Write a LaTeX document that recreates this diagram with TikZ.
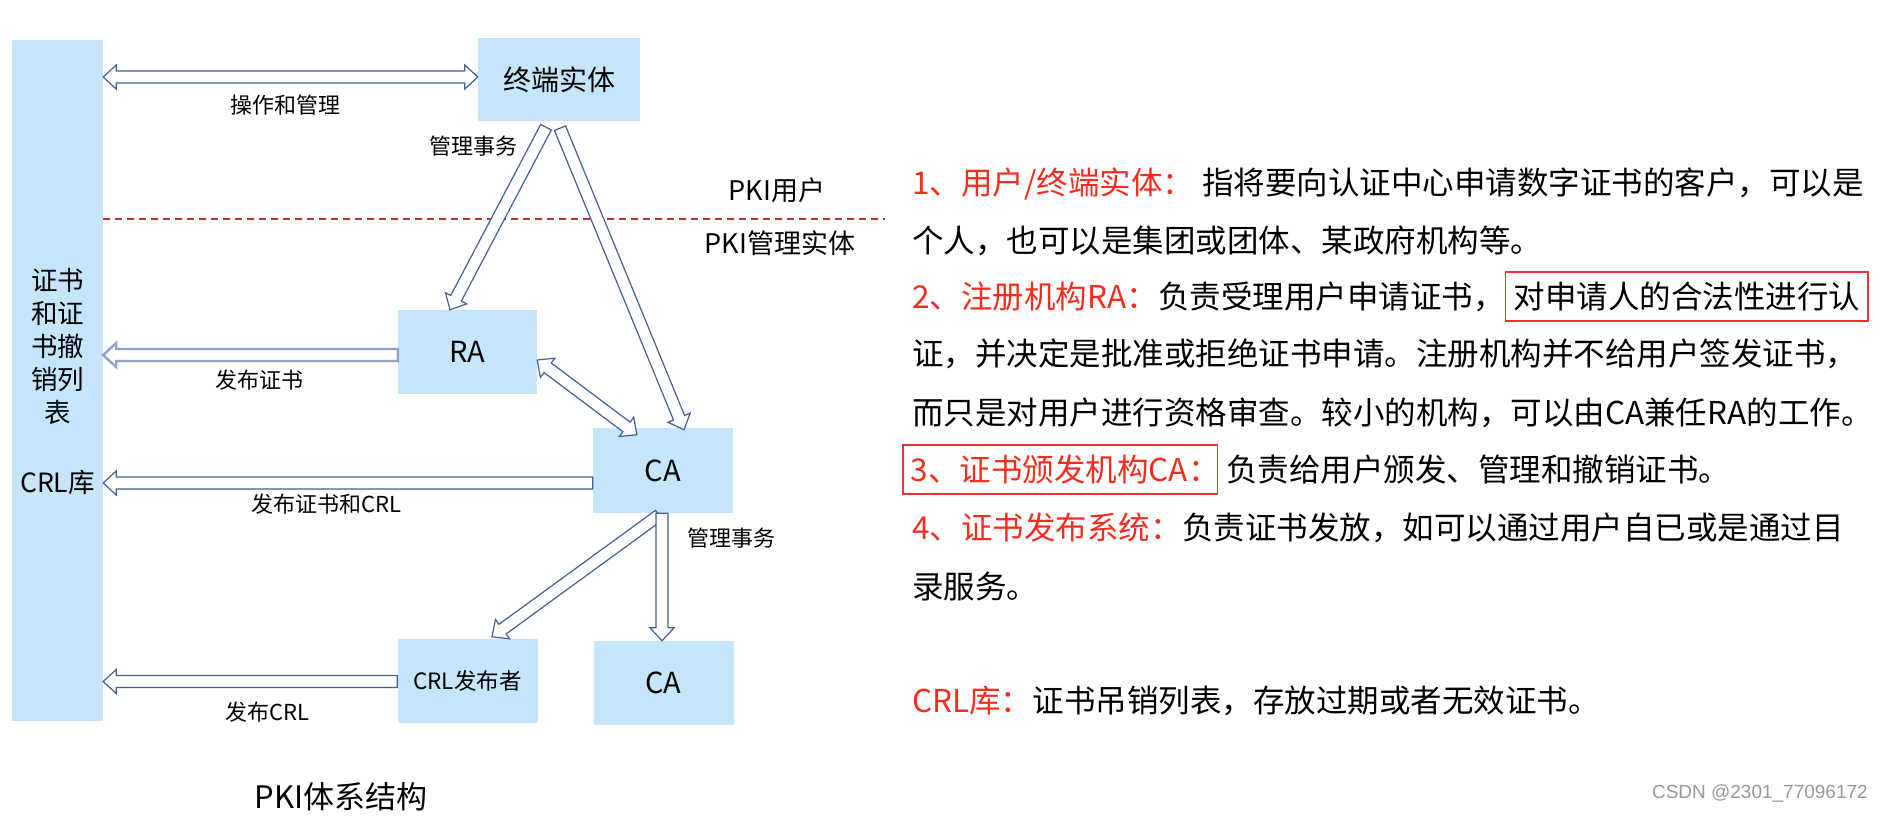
\documentclass[tikz,border=0pt]{standalone}
\usepackage{fontspec}
\setmainfont{Noto Sans CJK SC}
\newfontfamily\wmfont{Liberation Sans}
\usetikzlibrary{calc}
\definecolor{boxblue}{RGB}{197,230,250}
\definecolor{arrline}{RGB}{70,95,145}
\definecolor{arrgray}{RGB}{145,162,196}
\definecolor{redtxt}{RGB}{245,45,30}
\definecolor{redbox}{RGB}{240,50,50}
\definecolor{dashred}{RGB}{192,50,40}
\newcommand\fs[1]{\fontsize{#1}{#1}\selectfont}
\newcommand\blockarrow[4][]{% #2: 1 single, 2 double; #3 from, #4 to
  \path let \p1=(#3), \p2=(#4), \n1={atan2(\y2-\y1,\x2-\x1)}, \n2={veclen(\x2-\x1,\y2-\y1)} in
    \pgfextra{\xdef\baAngR{\n1}\xdef\baLenR{\n2}\xdef\baX{\x1}\xdef\baY{\y1}};
  \pgfmathsetmacro\baAng{\baAngR}
  \pgfmathsetmacro\baL{\baLenR}
  \pgfmathsetmacro\baA{\baL-13}
  \begin{scope}[shift={(\baX,\baY)}, rotate=\baAng]
   \ifnum#2=2\relax
    \draw[blk,#1] (0pt,0pt) -- (13pt,12pt) -- (13pt,6pt) -- (\baA pt,6pt) -- (\baA pt,12pt) -- (\baL pt,0pt) -- (\baA pt,-12pt) -- (\baA pt,-6pt) -- (13pt,-6pt) -- (13pt,-12pt) -- cycle;
   \else
    \draw[blk,#1] (0pt,6pt) -- (\baA pt,6pt) -- (\baA pt,12pt) -- (\baL pt,0pt) -- (\baA pt,-12pt) -- (\baA pt,-6pt) -- (0pt,-6pt) -- cycle;
   \fi
  \end{scope}
}
\begin{document}
\begin{tikzpicture}[x=1pt,y=-1pt,
  box/.style={fill=boxblue, inner sep=0pt, anchor=center},
  blk/.style={draw=arrline, fill=white, line width=1.2pt, line join=miter},
  lbl/.style={inner sep=0pt, font=\fs{22}},
  rt/.style={anchor=base west, inner sep=0pt, font=\fs{31.5}},
  rbox/.style={draw=redbox, line width=1.6pt, inner xsep=8pt, inner ysep=9pt, text height=27pt, text depth=4pt}]
\fill[white] (0,0) rectangle (1883,820);
\useasboundingbox (0,0) rectangle (1883,820);

% boxes
\node[box, minimum width=91pt, minimum height=681pt] (bar) at (57.5,380.5) {};
\node[box, minimum width=162pt, minimum height=83pt] (ee) at (559,79.5) {\fs{28}终端实体};
\node[box, minimum width=139pt, minimum height=84pt] (ra) at (467.5,352) {\fs{29}RA};
\node[box, minimum width=140pt, minimum height=85pt] (ca) at (663,470.5) {\fs{29}CA};
\node[box, minimum width=140pt, minimum height=84pt] (crl) at (467.5,681) {\fs{22.5}CRL发布者};
\node[box, minimum width=140pt, minimum height=84pt] (ca2) at (663.5,683) {\fs{29}CA};

% bar text
\node[inner sep=0pt, align=center, font=\fontsize{26.5}{33}\selectfont] (bt) at (57.5,346) {证书\\和证\\书撤\\销列\\表};
\node[inner sep=0pt, font=\fs{26.5}] (bt2) at (57.5,482) {CRL库};

% dashed separator
\coordinate (dashend) at (885,218.5);
\draw[dashred, line width=2pt, dash pattern=on 7pt off 5pt] (bar.east |- dashend) -- (dashend);

% arrows
\coordinate (a1) at ($(ee.west)+(0,-2.5)$);
\blockarrow{2}{bar.east |- a1}{a1}
\blockarrow{1}{$(ee.south)+(-13,6)$}{$(ra.north)+(-17.5,0)$}
\blockarrow{1}{$(ee.south)+(1,7)$}{$(ca.north)+(21,2)$}
\blockarrow{2}{$(ra.east)+(0,8)$}{$(ca.north)+(-26,7)$}
\blockarrow{1}{$(ca.south)+(-4,2)$}{$(crl.north)+(24.5,-2)$}
\blockarrow{1}{$(ca.south)+(-1,0)$}{$(ca2.north)+(-1.5,0)$}
\coordinate (a7) at ($(ra.west)+(0,3)$);
\blockarrow[draw=arrgray, line width=2.4pt]{1}{a7}{bar.east |- a7}
\coordinate (a8) at ($(ca.west)+(0,12.5)$);
\blockarrow{1}{a8}{bar.east |- a8}
\coordinate (a9) at ($(crl.west)+(0,0.5)$);
\blockarrow{1}{a9}{bar.east |- a9}

% labels
\node[lbl] (l1) at (285,105) {操作和管理};
\node[lbl] (l2) at (473,146) {管理事务};
\node[lbl] (l3) at (259,380) {发布证书};
\node[lbl] (l4) at (326,504) {发布证书和CRL};
\node[lbl] (l5) at (731,538) {管理事务};
\node[lbl] (l6) at (267,712) {发布CRL};
\node[inner sep=0pt, font=\fs{27}] (u1) at (777,190) {PKI用户};
\node[inner sep=0pt, font=\fs{27}] (u2) at (780,243) {PKI管理实体};
\node[inner sep=0pt, font=\fs{31}] (title) at (341,797) {PKI体系结构};

% right-hand text
\node[rt, text=redtxt] (r1a) at (912,194) {1、用户/终端实体：};
\node[rt] (r1b) at ($(r1a.base east)+(8,0)$) {指将要向认证中心申请数字证书的客户，可以是};
\node[rt] (r2) at (912,252) {个人，也可以是集团或团体、某政府机构等。};
\node[rt, text=redtxt] (r3a) at (912,308) {2、注册机构RA：};
\node[rt] (r3b) at (r3a.base east) {负责受理用户申请证书，};
\node[rt, rbox] (r3c) at (r3b.base east) {对申请人的合法性进行认};
\node[rt] (r4) at (912,365) {证，并决定是批准或拒绝证书申请。注册机构并不给用户签发证书，};
\node[rt] (r5) at (912,424) {而只是对用户进行资格审查。较小的机构，可以由CA兼任RA的工作。};
\node[rt, rbox, text=redtxt] (r6a) at (902,481) {3、证书颁发机构CA\makebox[0.68em][l]{：}};
\node[rt] (r6b) at ($(r6a.base east)+(8,0)$) {负责给用户颁发、管理和撤销证书。};
\node[rt, text=redtxt] (r7a) at (912,539) {4、证书发布系统：};
\node[rt] (r7b) at (r7a.base east) {负责证书发放，如可以通过用户自已或是通过目};
\node[rt] (r8) at (912,598) {录服务。};
\node[rt, text=redtxt] (r9a) at (912,712) {CRL库：};
\node[rt] (r9b) at (r9a.base east) {证书吊销列表，存放过期或者无效证书。};

% watermark
\node[anchor=east, inner sep=0pt, text=black!40, font=\wmfont\fs{19}] (wm) at (1868,793) {CSDN @2301\_77096172};
\end{tikzpicture}
\end{document}
